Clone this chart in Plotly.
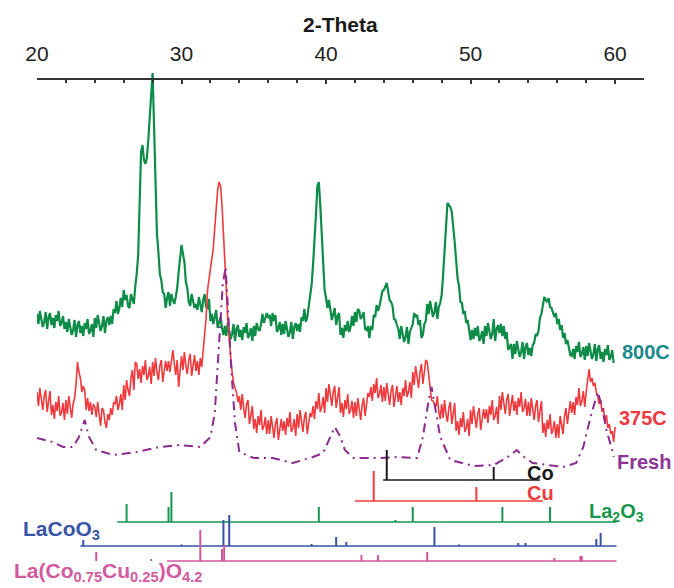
import numpy as np
import plotly.graph_objects as go

# ---------------- data ----------------
SCAN_START = 20.0
SCAN_STEP = 0.1

# stacked intensities (a.u.) of the three samples, one value per 0.1 deg 2-theta
int_800C = [
    286, 276, 289, 281, 273, 278, 288, 271, 283, 287,
    275, 282, 272, 285, 279, 289, 274, 277, 284, 271,
    278, 268, 281, 273, 265, 270, 280, 263, 275, 279,
    267, 274, 264, 277, 271, 281, 266, 269, 276, 263,
    282, 272, 285, 277, 269, 274, 284, 267, 279, 283,
    275, 284, 276, 291, 287, 299, 286, 292, 302, 293,
    310, 300, 305, 294, 292, 306, 300, 296, 314, 326,
    345, 390, 448, 455, 440, 436, 442, 460, 488, 505,
    527, 478, 412, 366, 348, 326, 320, 308, 306, 292,
    302, 308, 294, 306, 300, 296, 303, 312, 328, 340,
    355, 346, 338, 318, 312, 298, 294, 306, 300, 292,
    296, 290, 303, 295, 288, 300, 306, 293, 292, 301,
    279, 286, 276, 283, 290, 272, 277, 283, 272, 265,
    274, 264, 277, 269, 261, 266, 276, 259, 271, 275,
    263, 270, 260, 273, 267, 277, 262, 265, 272, 259,
    274, 264, 277, 271, 269, 276, 286, 277, 283, 287,
    282, 285, 274, 287, 279, 285, 268, 271, 278, 265,
    276, 266, 279, 271, 263, 268, 278, 261, 273, 277,
    269, 276, 268, 283, 279, 291, 278, 283, 294, 301,
    315, 335, 355, 385, 414, 418, 395, 370, 338, 310,
    302, 292, 300, 289, 280, 286, 292, 275, 284, 287,
    265, 272, 262, 275, 269, 279, 268, 273, 284, 274,
    288, 278, 291, 289, 281, 284, 288, 271, 270, 274,
    262, 274, 270, 285, 283, 295, 289, 294, 302, 309,
    310, 314, 317, 308, 300, 298, 294, 281, 280, 275,
    271, 261, 274, 266, 258, 263, 273, 256, 268, 272,
    276, 287, 283, 285, 275, 280, 262, 265, 276, 279,
    296, 286, 299, 291, 283, 288, 298, 281, 293, 297,
    305, 325, 347, 375, 397, 395, 393, 388, 375, 358,
    340, 322, 314, 298, 297, 286, 289, 277, 280, 269,
    260, 270, 261, 272, 264, 274, 259, 262, 269, 256,
    274, 264, 277, 269, 261, 266, 281, 259, 271, 275,
    267, 276, 264, 274, 261, 268, 250, 253, 256, 241,
    256, 246, 259, 251, 243, 248, 258, 241, 253, 257,
    245, 252, 244, 255, 257, 266, 264, 269, 282, 286,
    297, 303, 300, 298, 302, 293, 292, 288, 283, 287,
    276, 281, 270, 275, 262, 267, 256, 260, 253, 245,
    244, 251, 241, 254, 248, 258, 243, 246, 253, 240,
    254, 244, 257, 249, 241, 246, 256, 239, 251, 255,
    241, 248, 238, 251, 245, 255, 240, 243, 250, 237,
]

int_375C = [
    208, 194, 212, 198, 190, 204, 210, 188, 202, 209,
    185, 195, 181, 198, 189, 204, 184, 188, 197, 180,
    200, 186, 204, 190, 182, 196, 202, 215, 238, 228,
    222, 208, 214, 210, 190, 202, 189, 198, 185, 196,
    193, 183, 198, 186, 174, 192, 190, 178, 172, 186,
    180, 192, 185, 197, 196, 204, 190, 196, 206, 190,
    215, 200, 220, 210, 204, 222, 230, 210, 238, 236,
    221, 231, 217, 234, 225, 240, 220, 224, 233, 216,
    238, 224, 242, 228, 220, 234, 240, 218, 232, 239,
    229, 239, 228, 242, 250, 236, 225, 240, 213, 229,
    244, 230, 248, 234, 226, 240, 246, 224, 238, 245,
    229, 239, 225, 242, 233, 250, 262, 282, 310, 322,
    332, 340, 352, 372, 397, 410, 418, 414, 395, 370,
    347, 310, 280, 258, 243, 228, 217, 212, 208, 198,
    204, 190, 206, 192, 182, 196, 200, 176, 186, 194,
    171, 181, 167, 184, 175, 190, 170, 174, 183, 166,
    180, 166, 184, 170, 162, 176, 182, 160, 174, 181,
    169, 179, 165, 182, 173, 188, 168, 172, 181, 164,
    186, 172, 190, 176, 168, 182, 188, 166, 180, 187,
    183, 194, 181, 199, 191, 207, 188, 193, 203, 187,
    212, 198, 216, 202, 194, 208, 214, 192, 206, 213,
    187, 197, 183, 200, 191, 206, 186, 190, 199, 182,
    198, 184, 202, 188, 180, 195, 202, 184, 196, 207,
    203, 213, 199, 216, 207, 222, 202, 206, 215, 198,
    213, 199, 217, 203, 195, 209, 215, 193, 207, 214,
    198, 208, 195, 212, 204, 220, 203, 208, 218, 202,
    228, 215, 234, 220, 212, 228, 236, 216, 230, 240,
    238, 226, 217, 200, 199, 196, 193, 204, 188, 181,
    196, 182, 200, 186, 178, 192, 198, 176, 190, 197,
    169, 179, 165, 182, 173, 188, 168, 172, 181, 164,
    190, 176, 194, 180, 172, 186, 192, 170, 184, 191,
    181, 191, 177, 194, 185, 200, 180, 184, 193, 176,
    204, 190, 208, 194, 186, 200, 206, 184, 198, 205,
    189, 199, 185, 202, 193, 208, 188, 192, 201, 184,
    198, 184, 202, 188, 180, 194, 200, 178, 192, 199,
    167, 177, 163, 180, 171, 186, 166, 170, 179, 162,
    176, 162, 184, 172, 166, 184, 192, 176, 190, 199,
    187, 198, 185, 203, 195, 212, 194, 199, 209, 193,
    208, 222, 231, 218, 222, 214, 217, 208, 204, 196,
    200, 188, 192, 178, 185, 172, 176, 166, 169, 158,
    173,
]

fresh_2theta = [20.0, 20.6, 21.1, 21.8, 22.5, 22.9, 23.3, 23.6, 24.1, 25.3,
                26.9, 28.5, 29.9, 31.3, 32.0, 32.3, 32.6, 32.85, 33.05, 33.25,
                33.45, 33.7, 34.0, 35.0, 36.3, 37.7, 39.1, 39.8, 40.3, 40.6,
                41.0, 41.3, 41.9, 43.7, 44.9, 46.3, 46.7, 47.1, 47.3, 47.5,
                47.9, 48.6, 50.2, 51.6, 52.8, 53.2, 53.7, 54.3, 56.4, 57.3,
                57.8, 58.3, 58.8, 59.1, 59.4, 59.8, 59.9]
fresh_int = [162, 160, 158, 153, 153, 163, 180, 163, 150, 145,
             148, 153, 155, 153, 163, 187, 260, 315, 333, 280,
             230, 177, 148, 142, 142, 137, 143, 147, 163, 173,
             163, 150, 142, 142, 143, 142, 163, 200, 213, 197,
             163, 140, 134, 135, 145, 150, 143, 137, 133, 137,
             153, 183, 208, 193, 170, 150, 143]

# reference stick patterns: positions (2-theta) and relative intensities
co_pos = [44.2, 51.6]
co_int = [30, 13]
cu_pos = [43.3, 50.4]
cu_int = [30, 14]
la2o3_pos = [26.2, 29.1, 29.3, 39.5, 44.8, 46.0, 52.2, 55.5]
la2o3_int = [18, 15, 30, 15, 2, 15, 15, 15]
lacoo3_pos = [23.2, 30.0, 32.9, 33.3, 39.0, 40.7, 41.4, 47.5, 49.2, 53.3, 53.8, 58.7, 59.0]
lacoo3_int = [6, 1.5, 26, 31, 2, 9, 4, 19, 1.5, 3, 3, 7, 13]
lcco_pos = [24.1, 27.9, 31.3, 32.8, 32.95, 42.45, 43.6, 47.0, 55.8, 57.6, 57.7]
lcco_int = [9, 2, 31, 12, 16, 6, 6, 9, 3, 5, 5]

x_ticks = [20, 30, 40, 50, 60]

# ---------------- styling ----------------
GREEN = "#0d8c47"
RED = "#f0393c"
PURPLE = "#8b2b90"
FONT = "Liberation Sans, Arial, sans-serif"

fig = go.Figure()

tt_800 = np.round(SCAN_START + SCAN_STEP * np.arange(len(int_800C)), 2)
tt_375 = np.round(SCAN_START + SCAN_STEP * np.arange(len(int_375C)), 2)

fig.add_trace(go.Scatter(x=tt_800, y=int_800C, mode="lines",
                         line=dict(color=GREEN, width=2.2), name="800C"))
fig.add_trace(go.Scatter(x=tt_375, y=int_375C, mode="lines",
                         line=dict(color=RED, width=1.6), name="375C"))
fig.add_trace(go.Scatter(x=fresh_2theta, y=fresh_int, mode="lines",
                         line=dict(color=PURPLE, width=2, dash="9px,5px,2px,5px"),
                         name="Fresh"))


def sticks(pos, ints, base, x0, x1, color, name, base_w=1.5, stick_w=2):
    fig.add_trace(go.Scatter(x=[x0, x1], y=[base, base], mode="lines",
                             line=dict(color=color, width=base_w), name=name + " base"))
    sx, sy = [], []
    for p, h in zip(pos, ints):
        sx += [p, p, None]
        sy += [base, base + h, None]
    fig.add_trace(go.Scatter(x=sx, y=sy, mode="lines",
                             line=dict(color=color, width=stick_w), name=name))


sticks(co_pos, co_int, 120, 43.95, 54.8, "#1a1a1a", "Co")
sticks(cu_pos, cu_int, 99, 42.0, 55.0, "#ee3b3d", "Cu")
sticks(la2o3_pos, la2o3_int, 78, 25.55, 60.1, "#17964d", "La2O3")
sticks(lacoo3_pos, lacoo3_int, 54, 23.0, 60.1, "#3451a3", "LaCoO3")
sticks(lcco_pos, lcco_int, 39, 29.0, 60.1, "#d0579c", "LCCO")

# labels: (text, x, xref, y, colour, size)
labels = [
    ("<b>800C</b>", 60.35, "x", 248, "#1a8a8e", 20),
    ("<b>375C</b>", 60.15, "x", 182, "#ef3a3c", 20),
    ("<b>Fresh</b>", 60.0, "x", 138, "#8e3496", 20),
    ("<b>Co</b>", 53.75, "x", 127, "#1a1a1a", 20),
    ("<b>Cu</b>", 53.75, "x", 107, "#ef3a3c", 20),
    ("<b>La<sub>2</sub>O<sub>3</sub></b>", 58.05, "x", 88, "#17964d", 20),
    ("<b>LaCoO<sub>3</sub></b>", -0.0265, "paper", 70, "#3955a5", 21),
    ("<b>La(Co<sub>0.75</sub>Cu<sub>0.25</sub>)O<sub>4.2</sub></b>", -0.041, "paper", 28, "#d35aa0", 21),
]
for txt, x, xref, y, c, s in labels:
    fig.add_annotation(x=x, y=y, xref=xref, yref="y", text=txt, showarrow=False,
                       xanchor="left", yanchor="middle",
                       font=dict(family=FONT, size=s, color=c))

fig.add_annotation(x=0.5, y=(588 - 24) / 528, xref="paper", yref="paper",
                   text="<b>2-Theta</b>", showarrow=False,
                   xanchor="center", yanchor="middle",
                   font=dict(family=FONT, size=21, color="#1a1a1a"))

fig.update_layout(
    width=674, height=588,
    margin=dict(l=37, r=30, t=60, b=0),
    paper_bgcolor="white", plot_bgcolor="white",
    showlegend=False,
    xaxis=dict(range=[20, 62], side="top", anchor="free", position=509 / 528,
               tickvals=x_ticks, ticks="inside", ticklen=4, tickwidth=1.5,
               tickcolor="#333", showline=True, linecolor="#333", linewidth=1.5,
               showgrid=False, zeroline=False, ticklabelstandoff=9,
               tickfont=dict(family=FONT, size=21, color="#222"),
               minor=dict(dtick=2, tick0=20, ticks="inside", ticklen=3,
                          tickwidth=1.5, tickcolor="#333", showgrid=False)),
    yaxis=dict(range=[12, 540], visible=False, showgrid=False, zeroline=False),
)

fig.write_html("out.html")
